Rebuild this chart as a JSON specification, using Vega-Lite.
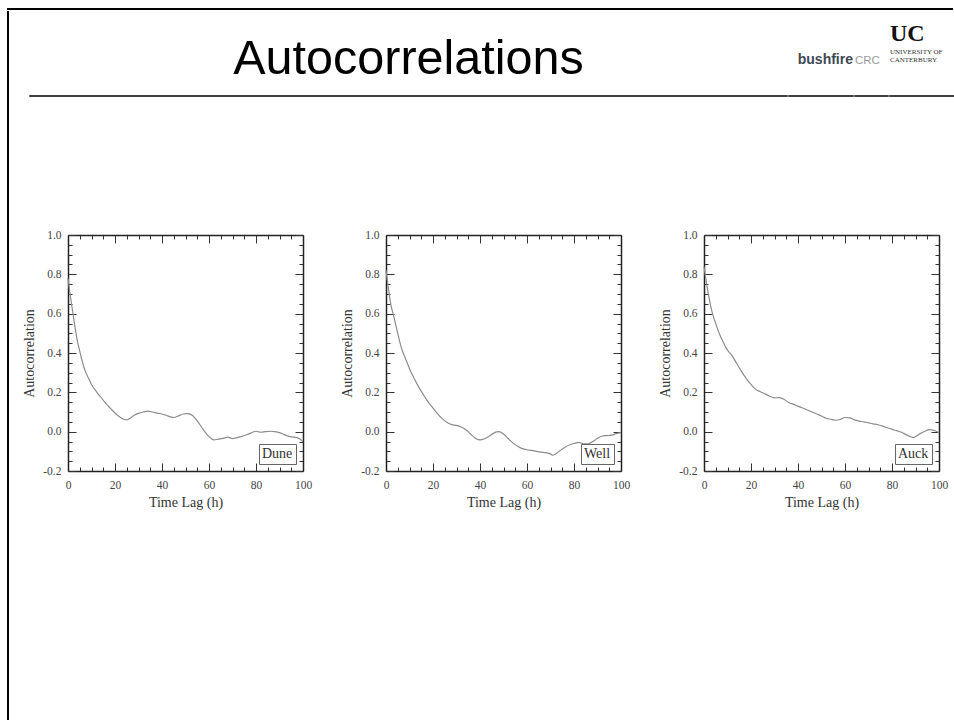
{
  "$schema": "https://vega.github.io/schema/vega-lite/v6.json",
  "padding": {"left": 7, "top": 8, "right": 0, "bottom": 0},
  "autosize": {"type": "pad"},
  "background": "white",
  "config": {
    "view": {"stroke": null},
    "title": {"frame": "group", "baseline": "alphabetic", "anchor": "start", "fontWeight": "normal"},
    "axis": {"grid": false}
  },
  "datasets": {
    "blank": [{"k": 1}],
    "acf": [
      {"site": "Dune", "lag": 0, "r": 0.78}, {"site": "Dune", "lag": 1, "r": 0.69}, {"site": "Dune", "lag": 2, "r": 0.61}, {"site": "Dune", "lag": 3, "r": 0.53},
      {"site": "Dune", "lag": 4, "r": 0.46}, {"site": "Dune", "lag": 5, "r": 0.41}, {"site": "Dune", "lag": 6, "r": 0.36}, {"site": "Dune", "lag": 7, "r": 0.32},
      {"site": "Dune", "lag": 8, "r": 0.29}, {"site": "Dune", "lag": 9, "r": 0.265}, {"site": "Dune", "lag": 10, "r": 0.24}, {"site": "Dune", "lag": 12, "r": 0.205},
      {"site": "Dune", "lag": 14, "r": 0.175}, {"site": "Dune", "lag": 16, "r": 0.145}, {"site": "Dune", "lag": 18, "r": 0.12}, {"site": "Dune", "lag": 20, "r": 0.095},
      {"site": "Dune", "lag": 22, "r": 0.075}, {"site": "Dune", "lag": 24, "r": 0.062}, {"site": "Dune", "lag": 25, "r": 0.06}, {"site": "Dune", "lag": 26, "r": 0.065},
      {"site": "Dune", "lag": 28, "r": 0.082}, {"site": "Dune", "lag": 30, "r": 0.093}, {"site": "Dune", "lag": 32, "r": 0.1}, {"site": "Dune", "lag": 34, "r": 0.104},
      {"site": "Dune", "lag": 36, "r": 0.1}, {"site": "Dune", "lag": 38, "r": 0.094}, {"site": "Dune", "lag": 40, "r": 0.09}, {"site": "Dune", "lag": 42, "r": 0.082},
      {"site": "Dune", "lag": 44, "r": 0.074}, {"site": "Dune", "lag": 45, "r": 0.072}, {"site": "Dune", "lag": 47, "r": 0.08}, {"site": "Dune", "lag": 49, "r": 0.09},
      {"site": "Dune", "lag": 51, "r": 0.092}, {"site": "Dune", "lag": 53, "r": 0.082}, {"site": "Dune", "lag": 55, "r": 0.055}, {"site": "Dune", "lag": 57, "r": 0.02},
      {"site": "Dune", "lag": 59, "r": -0.012}, {"site": "Dune", "lag": 61, "r": -0.035}, {"site": "Dune", "lag": 62, "r": -0.042}, {"site": "Dune", "lag": 64, "r": -0.038},
      {"site": "Dune", "lag": 66, "r": -0.034}, {"site": "Dune", "lag": 68, "r": -0.028}, {"site": "Dune", "lag": 70, "r": -0.035}, {"site": "Dune", "lag": 72, "r": -0.03},
      {"site": "Dune", "lag": 74, "r": -0.024}, {"site": "Dune", "lag": 76, "r": -0.016}, {"site": "Dune", "lag": 78, "r": -0.006}, {"site": "Dune", "lag": 80, "r": 0.002},
      {"site": "Dune", "lag": 82, "r": -0.003}, {"site": "Dune", "lag": 84, "r": 0.0}, {"site": "Dune", "lag": 86, "r": 0.002}, {"site": "Dune", "lag": 88, "r": 0.0},
      {"site": "Dune", "lag": 90, "r": -0.005}, {"site": "Dune", "lag": 92, "r": -0.015}, {"site": "Dune", "lag": 94, "r": -0.024}, {"site": "Dune", "lag": 96, "r": -0.028},
      {"site": "Dune", "lag": 98, "r": -0.033}, {"site": "Dune", "lag": 100, "r": -0.05},
      {"site": "Well", "lag": 0, "r": 0.82}, {"site": "Well", "lag": 1, "r": 0.73}, {"site": "Well", "lag": 2, "r": 0.65}, {"site": "Well", "lag": 3, "r": 0.6},
      {"site": "Well", "lag": 4, "r": 0.55}, {"site": "Well", "lag": 5, "r": 0.5}, {"site": "Well", "lag": 6, "r": 0.45}, {"site": "Well", "lag": 7, "r": 0.41},
      {"site": "Well", "lag": 8, "r": 0.38}, {"site": "Well", "lag": 9, "r": 0.35}, {"site": "Well", "lag": 10, "r": 0.32}, {"site": "Well", "lag": 12, "r": 0.27},
      {"site": "Well", "lag": 14, "r": 0.225}, {"site": "Well", "lag": 16, "r": 0.186}, {"site": "Well", "lag": 18, "r": 0.15}, {"site": "Well", "lag": 20, "r": 0.12},
      {"site": "Well", "lag": 22, "r": 0.09}, {"site": "Well", "lag": 24, "r": 0.065}, {"site": "Well", "lag": 26, "r": 0.047}, {"site": "Well", "lag": 28, "r": 0.036},
      {"site": "Well", "lag": 30, "r": 0.032}, {"site": "Well", "lag": 32, "r": 0.024}, {"site": "Well", "lag": 34, "r": 0.01}, {"site": "Well", "lag": 36, "r": -0.012},
      {"site": "Well", "lag": 38, "r": -0.033}, {"site": "Well", "lag": 40, "r": -0.042}, {"site": "Well", "lag": 42, "r": -0.036}, {"site": "Well", "lag": 44, "r": -0.022},
      {"site": "Well", "lag": 46, "r": -0.006}, {"site": "Well", "lag": 48, "r": 0.0}, {"site": "Well", "lag": 50, "r": -0.012}, {"site": "Well", "lag": 52, "r": -0.035},
      {"site": "Well", "lag": 54, "r": -0.057}, {"site": "Well", "lag": 56, "r": -0.074}, {"site": "Well", "lag": 58, "r": -0.086}, {"site": "Well", "lag": 60, "r": -0.092},
      {"site": "Well", "lag": 62, "r": -0.095}, {"site": "Well", "lag": 64, "r": -0.1}, {"site": "Well", "lag": 66, "r": -0.104}, {"site": "Well", "lag": 68, "r": -0.107},
      {"site": "Well", "lag": 70, "r": -0.113}, {"site": "Well", "lag": 71, "r": -0.12}, {"site": "Well", "lag": 72, "r": -0.115}, {"site": "Well", "lag": 74, "r": -0.097},
      {"site": "Well", "lag": 76, "r": -0.08}, {"site": "Well", "lag": 78, "r": -0.068}, {"site": "Well", "lag": 80, "r": -0.06}, {"site": "Well", "lag": 82, "r": -0.054},
      {"site": "Well", "lag": 84, "r": -0.062}, {"site": "Well", "lag": 86, "r": -0.062}, {"site": "Well", "lag": 88, "r": -0.05}, {"site": "Well", "lag": 90, "r": -0.034},
      {"site": "Well", "lag": 92, "r": -0.022}, {"site": "Well", "lag": 94, "r": -0.02}, {"site": "Well", "lag": 96, "r": -0.018}, {"site": "Well", "lag": 98, "r": -0.01},
      {"site": "Well", "lag": 100, "r": -0.005},
      {"site": "Auck", "lag": 0, "r": 0.84}, {"site": "Auck", "lag": 1, "r": 0.76}, {"site": "Auck", "lag": 2, "r": 0.69}, {"site": "Auck", "lag": 3, "r": 0.63},
      {"site": "Auck", "lag": 4, "r": 0.585}, {"site": "Auck", "lag": 5, "r": 0.55}, {"site": "Auck", "lag": 6, "r": 0.515}, {"site": "Auck", "lag": 7, "r": 0.485},
      {"site": "Auck", "lag": 8, "r": 0.46}, {"site": "Auck", "lag": 9, "r": 0.435}, {"site": "Auck", "lag": 10, "r": 0.415}, {"site": "Auck", "lag": 12, "r": 0.385},
      {"site": "Auck", "lag": 14, "r": 0.345}, {"site": "Auck", "lag": 16, "r": 0.305}, {"site": "Auck", "lag": 18, "r": 0.27}, {"site": "Auck", "lag": 20, "r": 0.24},
      {"site": "Auck", "lag": 22, "r": 0.215}, {"site": "Auck", "lag": 24, "r": 0.203}, {"site": "Auck", "lag": 26, "r": 0.192}, {"site": "Auck", "lag": 28, "r": 0.18},
      {"site": "Auck", "lag": 30, "r": 0.172}, {"site": "Auck", "lag": 32, "r": 0.173}, {"site": "Auck", "lag": 34, "r": 0.165}, {"site": "Auck", "lag": 36, "r": 0.148},
      {"site": "Auck", "lag": 38, "r": 0.14}, {"site": "Auck", "lag": 40, "r": 0.13}, {"site": "Auck", "lag": 42, "r": 0.12}, {"site": "Auck", "lag": 44, "r": 0.11},
      {"site": "Auck", "lag": 46, "r": 0.1}, {"site": "Auck", "lag": 48, "r": 0.09}, {"site": "Auck", "lag": 50, "r": 0.08}, {"site": "Auck", "lag": 52, "r": 0.068},
      {"site": "Auck", "lag": 54, "r": 0.063}, {"site": "Auck", "lag": 56, "r": 0.058}, {"site": "Auck", "lag": 58, "r": 0.062}, {"site": "Auck", "lag": 60, "r": 0.072},
      {"site": "Auck", "lag": 62, "r": 0.07}, {"site": "Auck", "lag": 64, "r": 0.06}, {"site": "Auck", "lag": 66, "r": 0.054}, {"site": "Auck", "lag": 68, "r": 0.05},
      {"site": "Auck", "lag": 70, "r": 0.045}, {"site": "Auck", "lag": 72, "r": 0.04}, {"site": "Auck", "lag": 74, "r": 0.035}, {"site": "Auck", "lag": 76, "r": 0.028},
      {"site": "Auck", "lag": 78, "r": 0.02}, {"site": "Auck", "lag": 80, "r": 0.012}, {"site": "Auck", "lag": 82, "r": 0.005}, {"site": "Auck", "lag": 84, "r": -0.003},
      {"site": "Auck", "lag": 86, "r": -0.015}, {"site": "Auck", "lag": 88, "r": -0.026}, {"site": "Auck", "lag": 89, "r": -0.03}, {"site": "Auck", "lag": 90, "r": -0.025},
      {"site": "Auck", "lag": 92, "r": -0.01}, {"site": "Auck", "lag": 94, "r": 0.002}, {"site": "Auck", "lag": 96, "r": 0.01}, {"site": "Auck", "lag": 98, "r": 0.006},
      {"site": "Auck", "lag": 100, "r": -0.005}
    ]
  },
  "spacing": 0,
  "vconcat": [
    {
      "data": {"name": "blank"}, "width": 944, "height": 0.001,
      "view": {"stroke": "black", "strokeWidth": 2},
      "mark": {"type": "text", "fontSize": 0}, "encoding": {"text": {"value": ""}}
    },
    {
      "spacing": 10,
      "hconcat": [
        {
          "data": {"name": "blank"}, "width": 0.001, "height": 709,
          "view": {"stroke": "black", "strokeWidth": 2},
          "mark": {"type": "text", "fontSize": 0}, "encoding": {"text": {"value": ""}}
        },
        {
          "spacing": 132,
          "vconcat": [
            {
              "spacing": 0,
              "vconcat": [
                {"data": {"name": "blank"}, "width": 1, "height": 9, "mark": {"type": "text", "fontSize": 0}, "encoding": {"text": {"value": ""}}},
                {
                  "spacing": 0,
                  "hconcat": [
                    {"data": {"name": "blank"}, "width": 9, "height": 0.001, "mark": {"type": "text", "fontSize": 0}, "encoding": {"text": {"value": ""}}},
                    {
                      "data": {"name": "blank"}, "width": 757, "height": 0.001,
                      "view": {"stroke": "black", "strokeWidth": 1.5},
                      "title": {"text": "Autocorrelations", "anchor": "middle", "font": "Liberation Sans", "fontSize": 48.5, "color": "black", "offset": 12},
                      "mark": {"type": "text", "fontSize": 0}, "encoding": {"text": {"value": ""}}
                    },
                    {
                      "data": {"name": "blank"}, "width": 64, "height": 0.001,
                      "view": {"stroke": "black", "strokeWidth": 1.5},
                      "title": {"text": "bushfire", "anchor": "end", "font": "Liberation Sans", "fontWeight": "bold", "fontSize": 14, "color": "#3d4954", "offset": 29},
                      "mark": {"type": "text", "fontSize": 0}, "encoding": {"text": {"value": ""}}
                    },
                    {
                      "data": {"name": "blank"}, "width": 33, "height": 0.001,
                      "view": {"stroke": "black", "strokeWidth": 1.5},
                      "title": {"text": " CRC", "font": "Liberation Sans", "fontSize": 11.5, "color": "#9a9a9a", "offset": 30},
                      "mark": {"type": "text", "fontSize": 0}, "encoding": {"text": {"value": ""}}
                    },
                    {
                      "data": {"name": "blank"}, "width": 69, "height": 0.001,
                      "view": {"stroke": "black", "strokeWidth": 1.5},
                      "title": {"text": "UC", "subtitle": ["UNIVERSITY OF", "CANTERBURY"], "font": "Liberation Serif", "fontWeight": "bold", "fontSize": 24, "color": "#111111",
                                "subtitleFont": "Liberation Serif", "subtitleFontSize": 7, "subtitleColor": "#333333", "subtitleLineHeight": 8, "subtitlePadding": 2, "offset": 33},
                      "mark": {"type": "text", "fontSize": 0}, "encoding": {"text": {"value": ""}}
                    }
                  ]
                }
              ]
            },
            {
              "spacing": 0,
              "hconcat": [
                {"data": {"name": "blank"}, "width": 2, "height": 1, "mark": {"type": "text", "fontSize": 0}, "encoding": {"text": {"value": ""}}},
                {
                  "spacing": 28,
                  "resolve": {"scale": {"color": "independent"}, "legend": {"color": "independent"}},
                  "hconcat": [
                    {
                      "width": 235, "height": 236,
                      "data": {"name": "acf"},
                      "transform": [{"filter": "datum.site === 'Dune'"}],
                      "layer": [
                        {
                          "mark": {"type": "line", "strokeWidth": 1.2, "interpolate": "monotone"},
                          "encoding": {
                            "x": {"field": "lag", "type": "quantitative", "scale": {"domain": [0, 100], "nice": false, "zero": false},
                                  "axis": {"orient": "bottom", "values": [0,5,10,15,20,25,30,35,40,45,50,55,60,65,70,75,80,85,90,95,100], "format": "d",
                                           "labelExpr": "datum.value % 20 === 0 ? datum.label : ''",
                                           "tickSize": {"condition": {"test": "datum.value % 20 === 0", "value": -8}, "value": -4},
                                           "tickColor": "#333333", "tickWidth": 1, "domainColor": "#222222", "domainWidth": 1.5,
                                           "labelFont": "Liberation Serif", "labelFontSize": 11.5, "labelColor": "#444444", "labelPadding": 16,
                                           "labelOverlap": false, "labelFlush": false, "labelBound": false,
                                           "title": "Time Lag (h)", "titleFont": "Liberation Serif", "titleFontSize": 14, "titleFontWeight": "normal", "titleColor": "#333333", "titlePadding": 1}},
                            "y": {"field": "r", "type": "quantitative", "scale": {"domain": [-0.2, 1.0], "nice": false, "zero": false},
                                  "axis": {"orient": "left", "values": [-0.2,-0.15,-0.1,-0.05,0,0.05,0.1,0.15,0.2,0.25,0.3,0.35,0.4,0.45,0.5,0.55,0.6,0.65,0.7,0.75,0.8,0.85,0.9,0.95,1], "format": ".1f",
                                           "labelExpr": "abs(round(datum.value*100)) % 20 === 0 ? replace(datum.label, '\u2212', '-') : ''",
                                           "tickSize": {"condition": {"test": "abs(round(datum.value*100)) % 20 === 0", "value": -8}, "value": -4},
                                           "tickColor": "#333333", "tickWidth": 1, "domainColor": "#222222", "domainWidth": 1.5,
                                           "labelFont": "Liberation Serif", "labelFontSize": 11.5, "labelColor": "#444444", "labelPadding": 15,
                                           "labelOverlap": false, "labelFlush": false, "labelBound": false,
                                           "title": "Autocorrelation", "titleFont": "Liberation Serif", "titleFontSize": 14, "titleFontWeight": "normal", "titleColor": "#333333", "titlePadding": 6}},
                            "color": {"field": "site", "type": "nominal", "scale": {"range": ["#8c8c8c"]},
                                      "legend": {"orient": "bottom-right", "title": null, "offset": 7, "padding": 3, "strokeColor": "#666666", "fillColor": "white",
                                                 "symbolType": "circle", "symbolSize": 0.01, "symbolStrokeWidth": 0, "symbolOpacity": 0, "labelOffset": -14,
                                                 "labelFont": "Liberation Serif", "labelFontSize": 14, "labelColor": "#333333"}}
                          }
                        },
                        {
                          "mark": {"type": "line", "opacity": 0},
                          "encoding": {
                            "x": {"field": "lag", "type": "quantitative", "scale": {"domain": [0, 100], "nice": false, "zero": false},
                                  "axis": {"orient": "top", "values": [0,5,10,15,20,25,30,35,40,45,50,55,60,65,70,75,80,85,90,95,100], "labels": false, "title": null,
                                           "tickSize": {"condition": {"test": "datum.value % 20 === 0", "value": -8}, "value": -4},
                                           "tickColor": "#333333", "tickWidth": 1, "domainColor": "#222222", "domainWidth": 1.5}},
                            "y": {"field": "r", "type": "quantitative", "scale": {"domain": [-0.2, 1.0], "nice": false, "zero": false},
                                  "axis": {"orient": "right", "values": [-0.2,-0.15,-0.1,-0.05,0,0.05,0.1,0.15,0.2,0.25,0.3,0.35,0.4,0.45,0.5,0.55,0.6,0.65,0.7,0.75,0.8,0.85,0.9,0.95,1], "labels": false, "title": null,
                                           "tickSize": {"condition": {"test": "abs(round(datum.value*100)) % 20 === 0", "value": -8}, "value": -4},
                                           "tickColor": "#333333", "tickWidth": 1, "domainColor": "#222222", "domainWidth": 1.5}}
                          }
                        }
                      ],
                      "resolve": {"scale": {"x": "independent", "y": "independent"}}
                    },
                    {
                      "width": 235, "height": 236,
                      "data": {"name": "acf"},
                      "transform": [{"filter": "datum.site === 'Well'"}],
                      "layer": [
                        {
                          "mark": {"type": "line", "strokeWidth": 1.2, "interpolate": "monotone"},
                          "encoding": {
                            "x": {"field": "lag", "type": "quantitative", "scale": {"domain": [0, 100], "nice": false, "zero": false},
                                  "axis": {"orient": "bottom", "values": [0,5,10,15,20,25,30,35,40,45,50,55,60,65,70,75,80,85,90,95,100], "format": "d",
                                           "labelExpr": "datum.value % 20 === 0 ? datum.label : ''",
                                           "tickSize": {"condition": {"test": "datum.value % 20 === 0", "value": -8}, "value": -4},
                                           "tickColor": "#333333", "tickWidth": 1, "domainColor": "#222222", "domainWidth": 1.5,
                                           "labelFont": "Liberation Serif", "labelFontSize": 11.5, "labelColor": "#444444", "labelPadding": 16,
                                           "labelOverlap": false, "labelFlush": false, "labelBound": false,
                                           "title": "Time Lag (h)", "titleFont": "Liberation Serif", "titleFontSize": 14, "titleFontWeight": "normal", "titleColor": "#333333", "titlePadding": 1}},
                            "y": {"field": "r", "type": "quantitative", "scale": {"domain": [-0.2, 1.0], "nice": false, "zero": false},
                                  "axis": {"orient": "left", "values": [-0.2,-0.15,-0.1,-0.05,0,0.05,0.1,0.15,0.2,0.25,0.3,0.35,0.4,0.45,0.5,0.55,0.6,0.65,0.7,0.75,0.8,0.85,0.9,0.95,1], "format": ".1f",
                                           "labelExpr": "abs(round(datum.value*100)) % 20 === 0 ? replace(datum.label, '\u2212', '-') : ''",
                                           "tickSize": {"condition": {"test": "abs(round(datum.value*100)) % 20 === 0", "value": -8}, "value": -4},
                                           "tickColor": "#333333", "tickWidth": 1, "domainColor": "#222222", "domainWidth": 1.5,
                                           "labelFont": "Liberation Serif", "labelFontSize": 11.5, "labelColor": "#444444", "labelPadding": 15,
                                           "labelOverlap": false, "labelFlush": false, "labelBound": false,
                                           "title": "Autocorrelation", "titleFont": "Liberation Serif", "titleFontSize": 14, "titleFontWeight": "normal", "titleColor": "#333333", "titlePadding": 6}},
                            "color": {"field": "site", "type": "nominal", "scale": {"range": ["#8c8c8c"]},
                                      "legend": {"orient": "bottom-right", "title": null, "offset": 7, "padding": 3, "strokeColor": "#666666", "fillColor": "white",
                                                 "symbolType": "circle", "symbolSize": 0.01, "symbolStrokeWidth": 0, "symbolOpacity": 0, "labelOffset": -14,
                                                 "labelFont": "Liberation Serif", "labelFontSize": 14, "labelColor": "#333333"}}
                          }
                        },
                        {
                          "mark": {"type": "line", "opacity": 0},
                          "encoding": {
                            "x": {"field": "lag", "type": "quantitative", "scale": {"domain": [0, 100], "nice": false, "zero": false},
                                  "axis": {"orient": "top", "values": [0,5,10,15,20,25,30,35,40,45,50,55,60,65,70,75,80,85,90,95,100], "labels": false, "title": null,
                                           "tickSize": {"condition": {"test": "datum.value % 20 === 0", "value": -8}, "value": -4},
                                           "tickColor": "#333333", "tickWidth": 1, "domainColor": "#222222", "domainWidth": 1.5}},
                            "y": {"field": "r", "type": "quantitative", "scale": {"domain": [-0.2, 1.0], "nice": false, "zero": false},
                                  "axis": {"orient": "right", "values": [-0.2,-0.15,-0.1,-0.05,0,0.05,0.1,0.15,0.2,0.25,0.3,0.35,0.4,0.45,0.5,0.55,0.6,0.65,0.7,0.75,0.8,0.85,0.9,0.95,1], "labels": false, "title": null,
                                           "tickSize": {"condition": {"test": "abs(round(datum.value*100)) % 20 === 0", "value": -8}, "value": -4},
                                           "tickColor": "#333333", "tickWidth": 1, "domainColor": "#222222", "domainWidth": 1.5}}
                          }
                        }
                      ],
                      "resolve": {"scale": {"x": "independent", "y": "independent"}}
                    },
                    {
                      "width": 235, "height": 236,
                      "data": {"name": "acf"},
                      "transform": [{"filter": "datum.site === 'Auck'"}],
                      "layer": [
                        {
                          "mark": {"type": "line", "strokeWidth": 1.2, "interpolate": "monotone"},
                          "encoding": {
                            "x": {"field": "lag", "type": "quantitative", "scale": {"domain": [0, 100], "nice": false, "zero": false},
                                  "axis": {"orient": "bottom", "values": [0,5,10,15,20,25,30,35,40,45,50,55,60,65,70,75,80,85,90,95,100], "format": "d",
                                           "labelExpr": "datum.value % 20 === 0 ? datum.label : ''",
                                           "tickSize": {"condition": {"test": "datum.value % 20 === 0", "value": -8}, "value": -4},
                                           "tickColor": "#333333", "tickWidth": 1, "domainColor": "#222222", "domainWidth": 1.5,
                                           "labelFont": "Liberation Serif", "labelFontSize": 11.5, "labelColor": "#444444", "labelPadding": 16,
                                           "labelOverlap": false, "labelFlush": false, "labelBound": false,
                                           "title": "Time Lag (h)", "titleFont": "Liberation Serif", "titleFontSize": 14, "titleFontWeight": "normal", "titleColor": "#333333", "titlePadding": 1}},
                            "y": {"field": "r", "type": "quantitative", "scale": {"domain": [-0.2, 1.0], "nice": false, "zero": false},
                                  "axis": {"orient": "left", "values": [-0.2,-0.15,-0.1,-0.05,0,0.05,0.1,0.15,0.2,0.25,0.3,0.35,0.4,0.45,0.5,0.55,0.6,0.65,0.7,0.75,0.8,0.85,0.9,0.95,1], "format": ".1f",
                                           "labelExpr": "abs(round(datum.value*100)) % 20 === 0 ? replace(datum.label, '\u2212', '-') : ''",
                                           "tickSize": {"condition": {"test": "abs(round(datum.value*100)) % 20 === 0", "value": -8}, "value": -4},
                                           "tickColor": "#333333", "tickWidth": 1, "domainColor": "#222222", "domainWidth": 1.5,
                                           "labelFont": "Liberation Serif", "labelFontSize": 11.5, "labelColor": "#444444", "labelPadding": 15,
                                           "labelOverlap": false, "labelFlush": false, "labelBound": false,
                                           "title": "Autocorrelation", "titleFont": "Liberation Serif", "titleFontSize": 14, "titleFontWeight": "normal", "titleColor": "#333333", "titlePadding": 6}},
                            "color": {"field": "site", "type": "nominal", "scale": {"range": ["#8c8c8c"]},
                                      "legend": {"orient": "bottom-right", "title": null, "offset": 7, "padding": 3, "strokeColor": "#666666", "fillColor": "white",
                                                 "symbolType": "circle", "symbolSize": 0.01, "symbolStrokeWidth": 0, "symbolOpacity": 0, "labelOffset": -14,
                                                 "labelFont": "Liberation Serif", "labelFontSize": 14, "labelColor": "#333333"}}
                          }
                        },
                        {
                          "mark": {"type": "line", "opacity": 0},
                          "encoding": {
                            "x": {"field": "lag", "type": "quantitative", "scale": {"domain": [0, 100], "nice": false, "zero": false},
                                  "axis": {"orient": "top", "values": [0,5,10,15,20,25,30,35,40,45,50,55,60,65,70,75,80,85,90,95,100], "labels": false, "title": null,
                                           "tickSize": {"condition": {"test": "datum.value % 20 === 0", "value": -8}, "value": -4},
                                           "tickColor": "#333333", "tickWidth": 1, "domainColor": "#222222", "domainWidth": 1.5}},
                            "y": {"field": "r", "type": "quantitative", "scale": {"domain": [-0.2, 1.0], "nice": false, "zero": false},
                                  "axis": {"orient": "right", "values": [-0.2,-0.15,-0.1,-0.05,0,0.05,0.1,0.15,0.2,0.25,0.3,0.35,0.4,0.45,0.5,0.55,0.6,0.65,0.7,0.75,0.8,0.85,0.9,0.95,1], "labels": false, "title": null,
                                           "tickSize": {"condition": {"test": "abs(round(datum.value*100)) % 20 === 0", "value": -8}, "value": -4},
                                           "tickColor": "#333333", "tickWidth": 1, "domainColor": "#222222", "domainWidth": 1.5}}
                          }
                        }
                      ],
                      "resolve": {"scale": {"x": "independent", "y": "independent"}}
                    }
                  ]
                }
              ]
            }
          ]
        }
      ]
    }
  ]
}
